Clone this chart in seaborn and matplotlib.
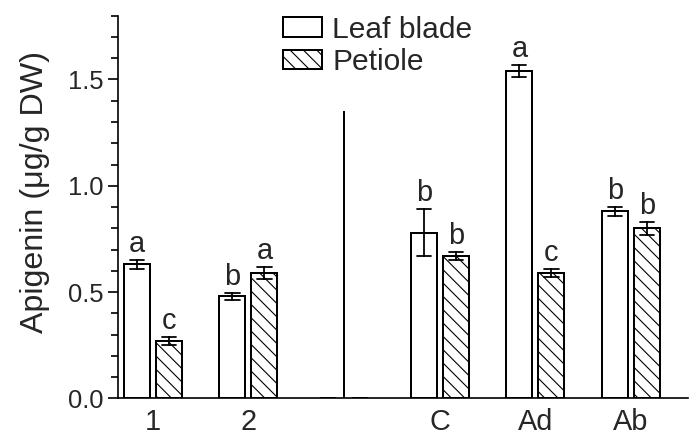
import numpy as np
import pandas as pd
import matplotlib.pyplot as plt
import seaborn as sns
from matplotlib.patches import Patch
from matplotlib.ticker import MultipleLocator, FormatStrFormatter

# values (mean +/- error)
groups = ['1', '2', ' ', 'C', 'Ad', 'Ab']
tissues = ['Leaf blade', 'Petiole']
leaf_mean = [0.63, 0.48, 0.0, 0.78, 1.54, 0.88]
leaf_err = [0.02, 0.017, 0.0, 0.11, 0.03, 0.02]
pet_mean = [0.27, 0.59, 0.0, 0.67, 0.59, 0.80]
pet_err = [0.02, 0.03, 0.0, 0.02, 0.02, 0.03]
leaf_letters = ['a', 'b', '', 'b', 'a', 'b']
pet_letters = ['c', 'a', '', 'b', 'c', 'b']
sep_group = ' '
sep_height = 1.35

# two points per bar -> mean is the value, min/max give the error bar
rows = []
for tissue, means, errs in [(tissues[0], leaf_mean, leaf_err), (tissues[1], pet_mean, pet_err)]:
    for g, m, e in zip(groups, means, errs):
        rows.append({'group': g, 'tissue': tissue, 'value': m - e})
        rows.append({'group': g, 'tissue': tissue, 'value': m + e})
df = pd.DataFrame(rows)

sns.set_style('ticks')
plt.rcParams['font.family'] = ['Liberation Sans', 'DejaVu Sans']
plt.rcParams['hatch.linewidth'] = 1.0
plt.rcParams['hatch.color'] = 'black'

fig = plt.figure(figsize=(689 / 80, 437 / 80), dpi=80)
ax = fig.add_axes([0.171, 0.0886, 0.8275, 0.8754])

sns.barplot(data=df, x='group', y='value', hue='tissue', order=groups, hue_order=tissues,
            palette=['white', 'white'], edgecolor='black', linewidth=1.8,
            errorbar=lambda v: (v.min(), v.max()), capsize=0.3,
            err_kws={'color': 'black', 'linewidth': 1.6},
            width=0.67, gap=0.19, legend=False, ax=ax)

for bar in ax.containers[1]:
    bar.set_hatch('\\\\')
for cont in ax.containers:
    for bar in cont:
        if bar.get_height() == 0:
            bar.set_edgecolor('none')

# significance letters
for cont, means, errs, letters in [(ax.containers[0], leaf_mean, leaf_err, leaf_letters),
                                   (ax.containers[1], pet_mean, pet_err, pet_letters)]:
    for bar, m, e, t in zip(cont, means, errs, letters):
        if t:
            ax.annotate(t, (bar.get_x() + bar.get_width() / 2, m + e), xytext=(0, 7),
                        textcoords='offset points', ha='center', va='baseline', fontsize=26)

# separator line
ax.vlines(groups.index(sep_group), 0, sep_height, color='black', linewidth=1.8)

handles = [Patch(facecolor='white', edgecolor='black', linewidth=1.8, label=tissues[0]),
           Patch(facecolor='white', edgecolor='black', linewidth=1.8, hatch='\\\\', label=tissues[1])]
ax.legend(handles=handles, loc='upper left', bbox_to_anchor=(0.289, 1.0), frameon=False,
          fontsize=27, handlelength=1.33, handleheight=0.63, handletextpad=0.33,
          labelspacing=0.15, borderpad=0, borderaxespad=0)

ax.set_xlim(-0.366, 5.596)
ax.set_ylim(0, 1.8)
ax.yaxis.set_major_locator(MultipleLocator(0.5))
ax.yaxis.set_minor_locator(MultipleLocator(0.1))
ax.yaxis.set_major_formatter(FormatStrFormatter('%.1f'))
ax.tick_params(axis='y', which='major', length=9, width=1.5, labelsize=23, pad=4, color='black')
ax.tick_params(axis='y', which='minor', length=6, width=1.5, color='black')
ax.tick_params(axis='x', length=0, labelsize=26, pad=9)
ax.set_xlabel('')
ax.set_ylabel('Apigenin (μg/g DW)', fontsize=29, labelpad=16)
ax.yaxis.label.set_y(0.54)
for s in ['left', 'bottom']:
    ax.spines[s].set_linewidth(1.5)
    ax.spines[s].set_color('black')
sns.despine(ax=ax)

fig.savefig('out.png', dpi=80)
